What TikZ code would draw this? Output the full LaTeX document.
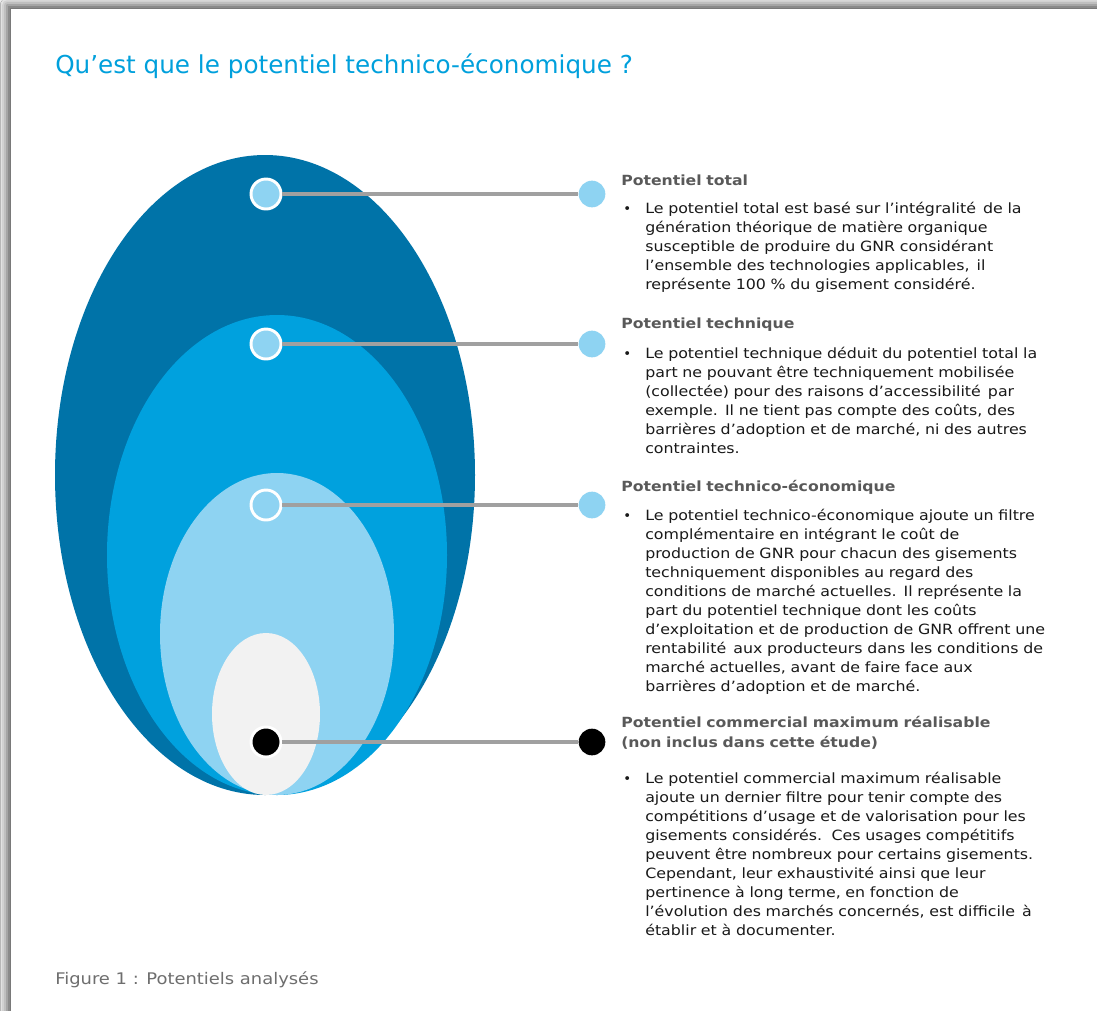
\documentclass[tikz,border=0pt]{standalone}
\usepackage{fontspec}
\setmainfont{DejaVu Sans}
\newfontfamily\widefont[FakeStretch=1.12]{DejaVu Sans}
\usetikzlibrary{positioning,shadows.blur}

\definecolor{totblue}{RGB}{0,115,168}
\definecolor{tecblue}{RGB}{0,161,222}
\definecolor{ecoblue}{RGB}{142,211,242}
\definecolor{comgrey}{RGB}{242,242,242}
\definecolor{titleblue}{RGB}{0,160,220}
\definecolor{linegrey}{RGB}{160,160,160}
\definecolor{headgrey}{RGB}{89,89,89}
\definecolor{bodyblack}{RGB}{25,25,25}
\definecolor{capgrey}{RGB}{110,110,110}

\tikzset{x=0.75pt, y=-0.75pt, % one unit = one pixel of the page, y downwards
        marker/.style={ % circle inside the ellipses
            circle, draw=white, line width=2.2pt,
            minimum size=22.5pt, inner sep=0pt, fill=ecoblue},
        endmark/.style={ % circle at the end of the line
            circle, minimum size=20pt, inner sep=0pt, fill=ecoblue},
        link/.style={draw=linegrey, line width=2.3pt},
        heading/.style={anchor=base west, inner sep=0pt, text width=340pt, align=left,
            font=\widefont\bfseries\fontsize{10.5}{15}\selectfont, text=headgrey},
        body/.style={anchor=base west, inner sep=0pt, text width=340pt, align=left,
            font=\widefont\fontsize{10.6}{14.3}\selectfont, text=bodyblack},
        bullet/.style={anchor=base west, inner sep=0pt,
            font=\fontsize{10}{14.3}\selectfont, text=bodyblack}
        }

\begin{document}
\begin{tikzpicture}
    \useasboundingbox (0,0) rectangle (1097,1011);
    % page and its shadow
    \fill[gray!15] (0,0) rectangle (1097,1011);
    \fill[white, blur shadow={shadow xshift=-3pt, shadow yshift=3pt, shadow blur radius=5pt, shadow opacity=60}]
        (11,9) rectangle (1120,1030);

    \node[anchor=base west, inner sep=0pt, text=titleblue, font=\fontsize{18.5}{22}\selectfont]
        (title) at (55,73) {Qu’est que le potentiel technico-économique ?};

    % nested ellipses
    \fill[totblue] (265,475) ellipse [x radius=210, y radius=320];
    \fill[tecblue] (277,555) ellipse [x radius=170, y radius=240];
    \fill[ecoblue] (277,634) ellipse [x radius=117, y radius=161];
    \fill[comgrey] (266,714) ellipse [x radius=54, y radius=81];

    \node[marker]              (m1) at (266,194) {};
    \node[marker]              (m2) at (266,344) {};
    \node[marker]              (m3) at (266,505) {};
    \node[marker,fill=black]   (m4) at (266,742) {};

    \node[endmark]             (e1) at (592,194) {};
    \node[endmark]             (e2) at (592,344) {};
    \node[endmark]             (e3) at (592,505) {};
    \node[endmark,fill=black]  (e4) at (592,742) {};

    \draw[link] (m1) -- (e1);
    \draw[link] (m2) -- (e2);
    \draw[link] (m3) -- (e3);
    \draw[link] (m4) -- (e4);

    % texts
    \node[heading] (h1) at (621,185) {Potentiel total};
    \node[bullet]  (b1) at (623,213) {•};
    \node[body]    (t1) at (645,213) {Le potentiel total est basé sur l’intégralité\, de la\\
        génération théorique de matière organique\\
        susceptible de produire du GNR considérant\\
        l’ensemble des technologies applicables,\, il\\
        représente 100 \% du gisement considéré.};

    \node[heading] (h2) at (621,328) {Potentiel technique};
    \node[bullet]  (b2) at (623,358) {•};
    \node[body]    (t2) at (645,358) {Le potentiel technique déduit du potentiel total la\\
        part ne pouvant être techniquement mobilisée\\
        (collectée) pour des raisons d’accessibilité\, par\\
        exemple. Il ne tient pas compte des coûts, des\\
        barrières d’adoption et de marché, ni des autres\\
        contraintes.};

    \node[heading] (h3) at (621,491) {Potentiel technico-économique};
    \node[bullet]  (b3) at (623,520) {•};
    \node[body]    (t3) at (645,520) {Le potentiel technico-économique ajoute un filtre\\
        complémentaire en intégrant le coût de\\
        production de GNR pour chacun des gisements\\
        techniquement disponibles au regard des\\
        conditions de marché actuelles. Il représente la\\
        part du potentiel technique dont les coûts\\
        d’exploitation et de production de GNR offrent une\\
        rentabilité\, aux producteurs dans les conditions de\\
        marché actuelles, avant de faire face aux\\
        barrières d’adoption et de marché.};

    \node[heading] (h4) at (621,727) {Potentiel commercial maximum réalisable\\
        (non inclus dans cette étude)};
    \node[bullet]  (b4) at (623,783) {•};
    \node[body]    (t4) at (645,783) {Le potentiel commercial maximum réalisable\\
        ajoute un dernier filtre pour tenir compte des\\
        compétitions d’usage et de valorisation pour les\\
        gisements considérés.\, Ces usages compétitifs\\
        peuvent être nombreux pour certains gisements.\\
        Cependant, leur exhaustivité ainsi que leur\\
        pertinence à long terme, en fonction de\\
        l’évolution des marchés concernés, est difficile\, à\\
        établir et à documenter.};

    \node[anchor=base west, inner sep=0pt, text=capgrey, font=\widefont\fontsize{12}{14}\selectfont]
        (cap) at (55,984) {Figure 1 : Potentiels analysés};
\end{tikzpicture}
\end{document}
